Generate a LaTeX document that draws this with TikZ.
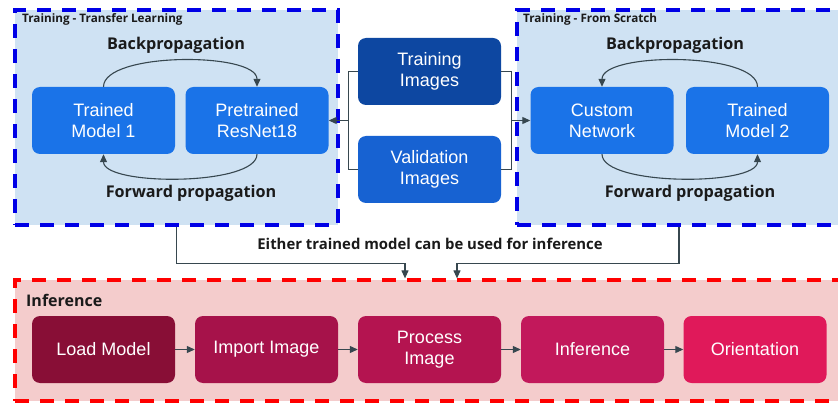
\documentclass[tikz,border=0pt]{standalone}
\usepackage{fontspec}
\setmainfont{Open Sans}
\newfontfamily\boxfont{Liberation Sans}
\usetikzlibrary{arrows.meta,calc}
\definecolor{grpblue}{HTML}{CFE2F3}
\definecolor{dashblue}{HTML}{0000E6}
\definecolor{grpred}{HTML}{F4CCCC}
\definecolor{dashred}{HTML}{FF0000}
\definecolor{bmain}{HTML}{1A73E8}
\definecolor{bdark}{HTML}{0D47A1}
\definecolor{bmid}{HTML}{1762D2}
\definecolor{rA}{HTML}{880E36}
\definecolor{rB}{HTML}{A6124A}
\definecolor{rC}{HTML}{B41450}
\definecolor{rD}{HTML}{C2185B}
\definecolor{rE}{HTML}{E0195A}
\definecolor{conncol}{HTML}{37474F}
\definecolor{txt}{HTML}{1A1A1A}
\tikzset{
  grp/.style={line width=3.2pt, dash pattern=on 14pt off 11pt, inner sep=0pt},
  blk/.style={rounded corners=8pt, text=white, font=\boxfont\fontsize{18}{21}\selectfont,
    align=center, minimum width=143pt, minimum height=67pt, inner sep=0pt},
  lbl/.style={font=\bfseries\fontsize{16.2}{18}\selectfont, text=txt},
  ttl/.style={font=\bfseries\fontsize{11.7}{13}\selectfont, text=txt, anchor=west, inner sep=0pt},
  conn/.style={draw=conncol, line width=1.1pt},
  tip/.style={-{Triangle[length=8pt,width=7pt]}},
}
\begin{document}
\begin{tikzpicture}[x=1pt,y=-1pt]
\useasboundingbox (0,0) rectangle (838,406);
% group boxes
\node[grp, draw=dashblue, fill=grpblue, minimum width=323pt, minimum height=215pt] (tl) at (176.5,117.5) {};
\node[grp, draw=dashblue, fill=grpblue, minimum width=324pt, minimum height=215pt] (tr) at (679,117.5) {};
\node[grp, draw=dashred, fill=grpred, minimum width=830pt, minimum height=121pt] (red) at (430,340.5) {};
% titles
\node[ttl] (t1) at (22,19) {Training - Transfer Learning};
\node[ttl] (t2) at (523,19) {Training - From Scratch};
\node[ttl, font=\bfseries\fontsize{16}{18}\selectfont] (t3) at (26,300) {Inference};
% blocks
\node[blk, fill=bmain] (tm1) at (103.5,120.5) {Trained\\Model 1};
\node[blk, fill=bmain] (rn) at (257,120.5) {Pretrained\\ResNet18};
\node[blk, fill=bmain] (cn) at (602,120.5) {Custom\\Network};
\node[blk, fill=bmain] (tm2) at (757.5,120.5) {Trained\\Model 2};
\node[blk, fill=bdark] (ti) at (429.5,71.5) {Training\\Images};
\node[blk, fill=bmid] (vi) at (429.5,169.5) {Validation\\Images};
\node[blk, fill=rA] (lm) at (103.5,349.5) {Load Model};
\node[blk, fill=rB] (ii) at (266.5,349.5) {Import Image};
\node[blk, fill=rC] (pi) at (429.5,349.5) {Process\\Image};
\node[blk, fill=rD] (inf) at (592.5,349.5) {Inference};
\node[blk, fill=rE] (ori) at (755,349.5) {Orientation};
% labels
\node[lbl] (bp1) at (176,45) {Backpropagation};
\node[lbl] (fp1) at (191,193) {Forward propagation};
\node[lbl] (bp2) at (675,45) {Backpropagation};
\node[lbl] (fp2) at (690,193) {Forward propagation};
\node[lbl, font=\bfseries\fontsize{14.9}{16}\selectfont] (either) at (430,244) {Either trained model can be used for inference};
% loops
\draw[conn, tip] (tm1.north) .. controls +(0,-35) and +(0,-35) .. (rn.north);
\draw[conn, tip] (rn.south) .. controls +(0,32) and +(0,32) .. (tm1.south);
\draw[conn, tip] (tm2.north) .. controls +(0,-35) and +(0,-35) .. (cn.north);
\draw[conn, tip] (cn.south) .. controls +(0,32) and +(0,32) .. (tm2.south);
% image inputs
\coordinate (lj) at ($(ti.west)+(-9,0)$);
\coordinate (rj) at ($(ti.east)+(10,0)$);
\draw[conn] (ti.west) -- (lj) |- (vi.west);
\draw[conn] (ti.east) -- (rj) |- (vi.east);
\draw[conn, tip] (lj |- rn.east) -- (rn.east);
\draw[conn, tip] (rj |- cn.west) -- (cn.west);
% to inference
\coordinate (a1) at ($(pi.center |- red.north)+(-24.5,0)$);
\coordinate (a2) at ($(pi.center |- red.north)+(27.5,0)$);
\draw[conn, tip] (tl.south) -- ++(0,37) -| (a1);
\draw[conn, tip] (tr.south) -- ++(0,37) -| (a2);
% inference chain
\draw[conn, tip] (lm) -- (ii);
\draw[conn, tip] (ii) -- (pi);
\draw[conn, tip] (pi) -- (inf);
\draw[conn, tip] (inf) -- (ori);
\end{tikzpicture}
\end{document}
